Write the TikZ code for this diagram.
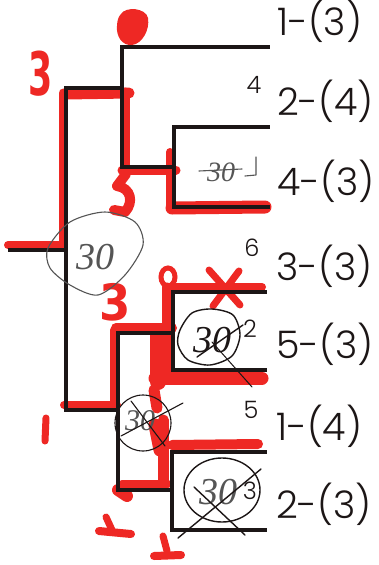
\documentclass[tikz,border=0pt]{standalone}
\usepackage{fontspec}
\setmainfont{Poppins Light}
\newfontfamily\markfont{DejaVu Sans}
\newfontfamily\handfont{Liberation Serif}
\definecolor{mred}{RGB}{238,40,36}
\definecolor{pencil}{RGB}{85,85,85}
\definecolor{ink}{RGB}{28,22,22}
\tikzset{
  tree/.style={draw=ink, line width=3.4pt, line cap=rect, line join=miter},
  marker/.style={draw=mred, line width=9pt, line cap=round, line join=round},
  pen/.style={draw=pencil, line width=1.1pt, line cap=round, line join=round},
  darkpen/.style={draw=ink, line width=1.4pt, line cap=round, line join=round},
  leaflab/.style={anchor=base west, inner sep=0pt, text=ink, font=\fontsize{38}{42}\selectfont},
  smalllab/.style={inner sep=0pt, text=ink, font=\fontsize{24}{28}\selectfont},
  handnum/.style={inner sep=0pt, text=pencil, font=\handfont\itshape\fontsize{38}{40}\selectfont},
  rednum/.style={inner sep=0pt, text=mred, font=\markfont\bfseries\fontsize{50}{52}\selectfont},
}
\begin{document}
\begin{tikzpicture}[x=1pt,y=-1pt]
\useasboundingbox[fill=white] (0,0) rectangle (379,565);

% ---------- tree coordinates ----------
\coordinate (r0) at (10,250);
\coordinate (r1) at (66,250);
\coordinate (mT) at (66,88);
\coordinate (mB) at (66,410);
\coordinate (aJ) at (122,88);
\coordinate (aT) at (122,47);
\coordinate (aB) at (122,167);
\coordinate (bJ) at (174,167);
\coordinate (bT) at (174,127);
\coordinate (bB) at (174,207);
\coordinate (cJ) at (118,410);
\coordinate (cT) at (118,333);
\coordinate (cB) at (118,490);
\coordinate (dJ) at (173,333);
\coordinate (dT) at (173,292);
\coordinate (dB) at (173,370);
\coordinate (fJ) at (172,490);
\coordinate (fT) at (172,452);
\coordinate (fB) at (172,530);
\coordinate (e1) at (268,47);
\coordinate (e2) at (268,127);
\coordinate (e4) at (268,207);
\coordinate (e3) at (265,292);
\coordinate (e5) at (265,370);
\coordinate (e6) at (265,452);
\coordinate (e7) at (265,530);

% ---------- red marker ----------
\fill[mred] (121,14) .. controls (126,6) and (146,8) .. (148,18)
  .. controls (150,30) and (142,44) .. (132,45)
  .. controls (122,46) and (116,36) .. (117,26)
  .. controls (117,20) and (119,16) .. (121,14) -- cycle;
\node[rednum, font=\markfont\bfseries\fontsize{60}{62}\selectfont, xscale=0.58] (red3a) at (41,74) {3};
\draw[marker] (63,93) -- (63,245);
\draw[marker, line width=11pt] (66,94) -- (129,93);
\draw[marker, line width=8pt] (8,245) -- (64,245);
\draw[marker] (125,92) -- (125,168);
\draw[marker] (122,170) -- (176,170);
\draw[marker, line width=8pt] (170,152) -- (170,207);
\draw[marker, line width=13pt] (172,208) -- (265,207);
\draw[marker, line width=10pt] (126,174) -- (117,186) .. controls (131,188) and (134,202) .. (125,212) -- (114,210);
\node[rednum, xscale=0.9] (red3b) at (115,302) {3};
\draw[mred, line width=5pt] (168,277) ellipse [x radius=7, y radius=9];
\draw[marker, line width=7pt] (209,270) -- (240,305);
\draw[marker, line width=7pt] (239,271) -- (213,306);
\draw[marker, line width=10pt] (116,328) -- (172,328);
\draw[marker, line width=8pt] (114,330) -- (114,405);
\draw[marker, line width=11pt] (167,288) -- (167,378);
\draw[marker, line width=16pt] (158,335) -- (158,382);
\draw[marker, line width=8pt] (166,287) -- (262,287);
\draw[marker, line width=13pt] (155,378) -- (262,378);
\draw[marker, line width=8pt] (64,405) -- (117,405);
\draw[marker, line width=7pt] (46,418) -- (45,441);
\draw[marker, line width=11pt] (154,390) -- (157,408);
\draw[marker, line width=13pt] (155,425) -- (160,450);
\draw[marker, line width=11pt] (163,420) -- (163,485);
\draw[marker, line width=10pt] (172,445) -- (258,444);
\draw[marker, line width=8pt] (122,484) -- (168,484);
\draw[marker, line width=12pt] (118,490) -- (127,496);
\draw[marker, line width=7pt] (106,517) -- (112,530);
\draw[marker, line width=8pt] (99,531) -- (131,534);
\draw[marker, line width=7pt] (163,536) -- (167,551);
\draw[marker, line width=8pt] (154,556) -- (181,555);

% ---------- black tree ----------
\draw[tree] (r0) -- (r1);
\draw[tree] (mT) -- (mB);
\draw[tree] (mT) -- (aJ);
\draw[tree] (e1) -- (aT) -- (aB) -- (bJ);
\draw[tree] (e2) -- (bT) -- (bB) -- (e4);
\draw[tree] (mB) -- (cJ);
\draw[tree] (dJ) -- (cT) -- (cB) -- (fJ);
\draw[tree] (e3) -- (dT) -- (dB) -- (e5);
\draw[tree] (e6) -- (fT) -- (fB) -- (e7);

% ---------- leaf labels ----------
\node[leaflab] (l1) at ([xshift=9pt,yshift=12pt]e1) {1-(3)};
\node[leaflab] (l2) at ([xshift=9pt,yshift=12pt]e2) {2-(4)};
\node[leaflab] (l4) at ([xshift=9pt,yshift=12pt]e4) {4-(3)};
\node[leaflab] (l3) at ([xshift=11pt,yshift=12pt]e3) {3-(3)};
\node[leaflab] (l5) at ([xshift=11pt,yshift=12pt]e5) {5-(3)};
\node[leaflab] (l6) at ([xshift=11pt,yshift=12pt]e6) {1-(4)};
\node[leaflab] (l7) at ([xshift=11pt,yshift=12pt]e7) {2-(3)};

% ---------- small labels ----------
\node[smalllab] (s4) at (254,85) {4};
\node[smalllab] (s6) at (252,248) {6};
\node[smalllab] (s5) at (251,410) {5};
\node[smalllab] (s2) at (250,329) {2};
\node[smalllab] (s3) at (250,491) {3};

% ---------- pencil annotations ----------
\draw[pen] plot[smooth cycle] coordinates {(48,248) (70,222) (105,212) (135,222) (143,245) (125,275) (98,295) (70,285) (50,268)};
\node[handnum] (h1) at (95,257) {30};

\node[handnum, text=ink] (h2) at (212,340) {30};
\draw[darkpen] plot[smooth cycle] coordinates {(180,330) (192,313) (212,309) (233,315) (240,335) (232,356) (210,365) (188,360) (178,345)};
\draw[darkpen] (197,357) -- (243,325);
\draw[darkpen, line width=1pt] (212,342) -- (252,387);

\node[handnum] (h3) at (218,492) {30};
\draw[darkpen] (222,490) ellipse [x radius=38, y radius=32];
\draw[darkpen] (178,538) -- (261,469);
\draw[darkpen] (194,487) -- (245,535);

\node[handnum, font=\handfont\itshape\fontsize{30}{32}\selectfont] (h4) at (140,421) {30};
\draw[darkpen, line width=1.1pt] (143,423) circle [radius=28];
\draw[darkpen, line width=1.1pt] (121,436) -- (183,403);
\draw[darkpen, line width=1.1pt] (131,401) -- (165,446);

\node[handnum, font=\handfont\itshape\fontsize{28}{30}\selectfont] (h5) at (221,172) {30};
\draw[pen] (199,171) -- (242,169);
\draw[pen] (256,157) -- (256,175) -- (245,176);
\end{tikzpicture}
\end{document}
